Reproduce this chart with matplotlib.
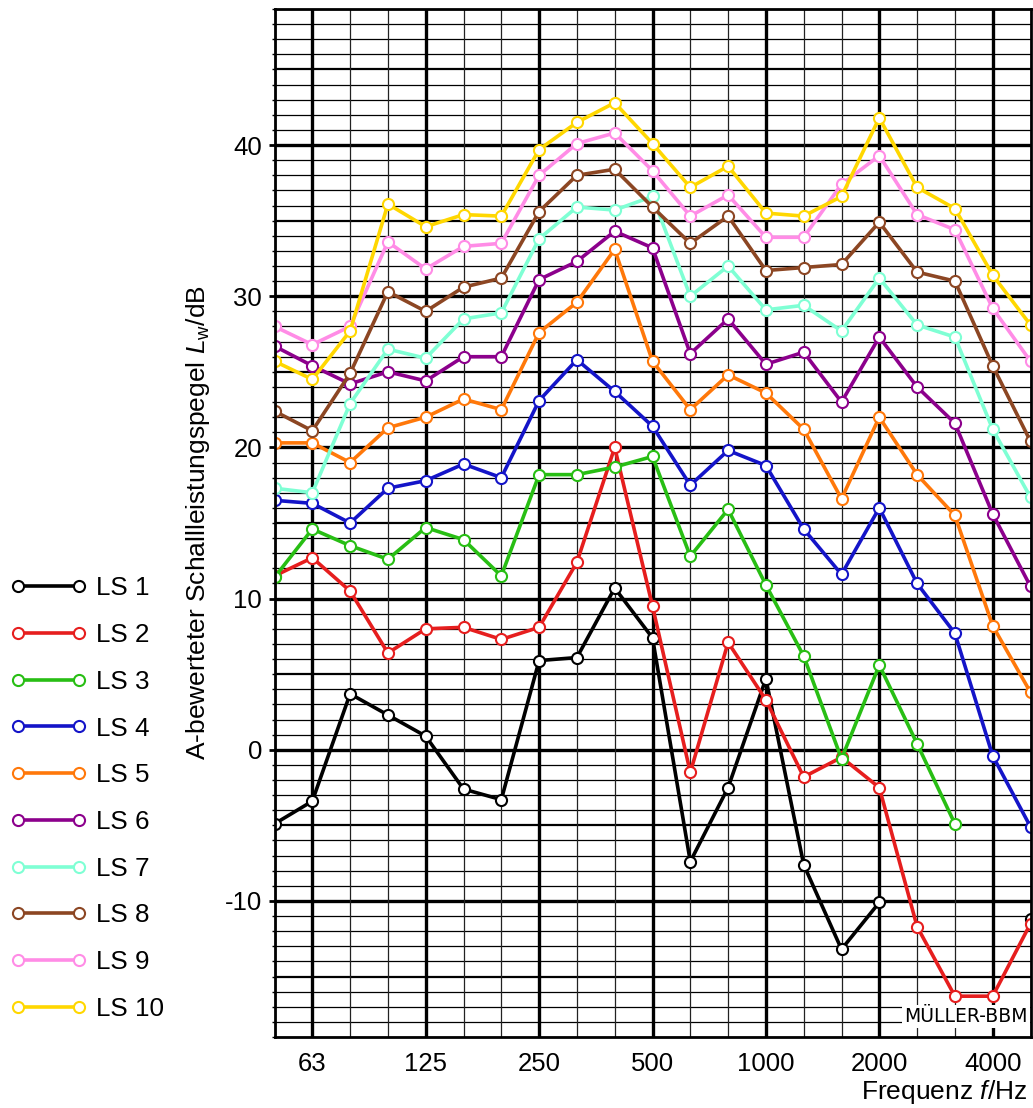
import matplotlib.pyplot as plt
import numpy as np

plt.rcParams['font.family'] = ['Liberation Sans', 'DejaVu Sans']
plt.rcParams['mathtext.fontset'] = 'custom'
plt.rcParams['mathtext.rm'] = 'Liberation Sans'
plt.rcParams['mathtext.it'] = 'Liberation Sans:italic'
plt.rcParams['axes.unicode_minus'] = False

nan = np.nan

# Terzbaender 50 Hz ... 5000 Hz
bands = [50, 63, 80, 100, 125, 160, 200, 250, 315, 400, 500,
         630, 800, 1000, 1250, 1600, 2000, 2500, 3150, 4000, 5000]
octave_labels = ['63', '125', '250', '500', '1000', '2000', '4000']

ls1 = [-4.9, -3.4, 3.7, 2.3, 0.9, -2.6, -3.3, 5.9, 6.1, 10.7, 7.4,
       -7.4, -2.5, 4.7, -7.6, -13.2, -10.1, nan, nan, nan, -11.2]
ls2 = [11.5, 12.7, 10.5, 6.4, 8.0, 8.1, 7.3, 8.1, 12.4, 20.0, 9.5,
       -1.5, 7.1, 3.3, -1.8, -0.5, -2.5, -11.7, -16.3, -16.3, -11.5]
ls3 = [11.4, 14.6, 13.5, 12.6, 14.7, 13.9, 11.5, 18.2, 18.2, 18.7, 19.4,
       12.8, 15.9, 10.9, 6.2, -0.6, 5.6, 0.4, -4.9, nan, nan]
ls4 = [16.5, 16.3, 15.0, 17.3, 17.8, 18.9, 18.0, 23.1, 25.8, 23.7, 21.4,
       17.5, 19.8, 18.8, 14.6, 11.6, 16.0, 11.0, 7.7, -0.4, -5.1]
ls5 = [20.3, 20.3, 19.0, 21.3, 22.0, 23.2, 22.5, 27.6, 29.6, 33.1, 25.7,
       22.5, 24.8, 23.6, 21.2, 16.6, 22.0, 18.2, 15.5, 8.2, 3.8]
ls6 = [26.7, 25.4, 24.2, 25.0, 24.4, 26.0, 26.0, 31.1, 32.3, 34.3, 33.2,
       26.2, 28.5, 25.5, 26.3, 23.0, 27.3, 24.0, 21.6, 15.6, 10.8]
ls7 = [17.3, 17.0, 22.9, 26.5, 25.9, 28.5, 28.9, 33.8, 35.9, 35.7, 36.6,
       30.0, 32.0, 29.1, 29.4, 27.7, 31.2, 28.1, 27.3, 21.2, 16.7]
ls8 = [22.4, 21.1, 24.9, 30.3, 29.0, 30.6, 31.2, 35.6, 38.0, 38.4, 35.9,
       33.5, 35.3, 31.7, 31.9, 32.1, 34.9, 31.6, 31.0, 25.4, 20.4]
ls9 = [28.0, 26.8, 28.0, 33.6, 31.8, 33.3, 33.5, 38.0, 40.1, 40.8, 38.3,
       35.3, 36.7, 33.9, 33.9, 37.4, 39.3, 35.4, 34.4, 29.2, 25.7]
ls10 = [25.7, 24.5, 27.7, 36.1, 34.6, 35.4, 35.3, 39.7, 41.5, 42.8, 40.1,
        37.2, 38.6, 35.5, 35.3, 36.6, 41.8, 37.2, 35.8, 31.4, 28.1]

series = [ls1, ls2, ls3, ls4, ls5, ls6, ls7, ls8, ls9, ls10]
names = ['LS 1', 'LS 2', 'LS 3', 'LS 4', 'LS 5', 'LS 6', 'LS 7', 'LS 8', 'LS 9', 'LS 10']
colors = ['#000000', '#e61e1e', '#28be14', '#1414c8', '#ff780a',
          '#8c008c', '#7fffd4', '#8c4623', '#ff8ce6', '#ffd700']

fig = plt.figure(figsize=(10.33, 11.08), dpi=100)
ax = fig.add_axes([274.5 / 1033, 1 - 1037 / 1108, 756 / 1033, 1028 / 1108])

x = np.arange(len(bands))

# Raster: 1 dB duenn, 5 dB mittel, 10 dB dick; Oktaven dick
for v in range(-19, 50):
    if v % 10 == 0:
        lw = 2.4
    elif v % 5 == 0:
        lw = 1.6
    else:
        lw = 0.9
    ax.axhline(v, color='black', lw=lw, zorder=1)
for i in x:
    if i % 3 == 1:
        ax.axvline(i, color='black', lw=2.4, zorder=1)
    else:
        ax.axvline(i, color='#222222', lw=0.9, zorder=1)

lines = []
for y, c, n in zip(series, colors, names):
    l, = ax.plot(x, y, '-o', color=c, lw=2.6, ms=8, mew=1.5,
                 mfc='white', mec=c, label=n, zorder=3)
    lines.append(l)

ax.set_xlim(0, 20)
ax.set_ylim(-19, 49)
ax.set_xticks(x[1::3])
ax.set_xticklabels(octave_labels)
ax.set_yticks(range(-10, 41, 10))
ax.set_yticks(range(-19, 50), minor=True)
ax.tick_params(axis='x', length=0, labelsize=18.5, pad=10.5)
ax.tick_params(axis='y', which='major', length=4, width=2, labelsize=18.5, pad=5)
ax.tick_params(axis='y', which='minor', length=2, width=1)
for s in ax.spines.values():
    s.set_linewidth(2)
    s.set_zorder(4)

ax.text(0.996, 0.011, 'MÜLLER-BBM', transform=ax.transAxes, ha='right', va='bottom',
        fontsize=13.5, family='DejaVu Sans', zorder=5,
        bbox=dict(facecolor='white', edgecolor='none', pad=1.5))

fig.text(198 / 1033, 1 - 523 / 1108,
         'A-bewerteter Schallleistungspegel $L_\\mathrm{w}$/dB',
         rotation=90, ha='center', va='center', fontsize=19)
fig.text(1027 / 1033, 1 - 1092 / 1108, 'Frequenz $f$/Hz',
         ha='right', va='center', fontsize=19)

fig.legend(handles=lines, loc='upper left', bbox_to_anchor=(0.0, 1 - 566 / 1108),
           frameon=False, numpoints=2, handlelength=2.95, handletextpad=0.35,
           labelspacing=0.875, fontsize=18.7, borderaxespad=0)

fig.savefig('out.png', dpi=100)
